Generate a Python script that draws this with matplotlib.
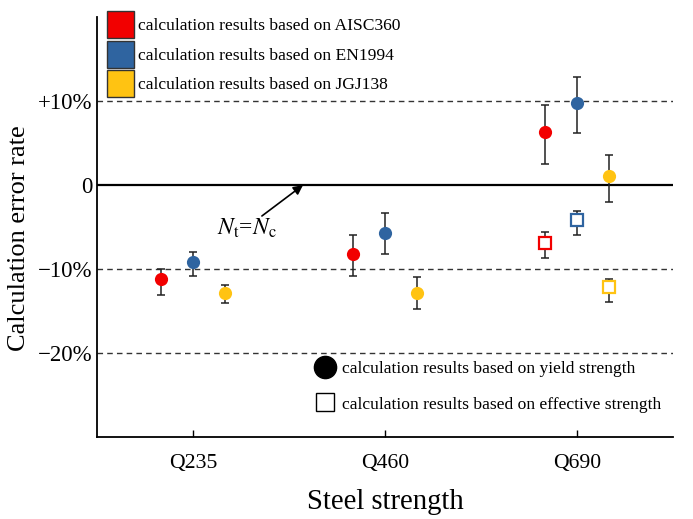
import numpy as np
import matplotlib
matplotlib.use('Agg')
import matplotlib.pyplot as plt
from matplotlib.patches import Patch
from matplotlib.lines import Line2D

plt.rcParams['font.family'] = ['Liberation Serif', 'DejaVu Serif']
plt.rcParams['mathtext.fontset'] = 'stix'

# 数据
categories = ['Q235', 'Q460', 'Q690']
codes = ['AISC360', 'EN1994', 'JGJ138']

# yield strength (circles): mean, lower end, upper end of error bar (%)
yield_mean = [[-11.15, -8.2, 6.3],
              [-9.13, -5.73, 9.8],
              [-12.8, -12.85, 1.07]]
yield_low = [[-13.1, -10.8, 2.5],
             [-10.8, -8.2, 6.2],
             [-14.1, -14.75, -2.0]]
yield_high = [[-10.0, -6.0, 9.5],
              [-7.95, -3.36, 12.9],
              [-11.9, -10.9, 3.6]]

# effective strength (hollow squares), only Q690
eff_mean = [-6.85, -4.15, -12.1]
eff_low = [-8.66, -5.9, -13.9]
eff_high = [-5.6, -3.1, -11.2]

colors = ['#F20000', '#2F64A0', '#FFC312']
offsets = [-0.165, 0.0, 0.165]

fig = plt.figure(figsize=(6.93, 5.19), dpi=100)
ax = fig.add_axes([0.140, 0.158, 0.831, 0.809])

x = np.arange(len(categories))

# 参考线
ax.axhline(0, color='black', linewidth=1.6, zorder=1)
for yv in [10, -10, -20]:
    ax.axhline(yv, color='#333333', linewidth=1.0, linestyle=(0, (4, 3)), zorder=1)

for i in range(3):
    m = np.array(yield_mean[i])
    lo = m - np.array(yield_low[i])
    hi = np.array(yield_high[i]) - m
    ax.errorbar(x + offsets[i], m, yerr=[lo, hi], fmt='none', ecolor='#222222',
                elinewidth=1.1, capsize=3.2, capthick=1.1, zorder=2)
    ax.plot(x + offsets[i], m, 'o', color=colors[i], markersize=9.5,
            markeredgewidth=0, zorder=3)
    # effective
    em = eff_mean[i]
    ax.errorbar(2 + offsets[i], em, yerr=[[em - eff_low[i]], [eff_high[i] - em]],
                fmt='none', ecolor='#222222', elinewidth=1.1, capsize=3.2,
                capthick=1.1, zorder=2)
    ax.plot(2 + offsets[i], em, 's', markerfacecolor='white', markeredgecolor=colors[i],
            markersize=8.2, markeredgewidth=1.6, zorder=3)

ax.set_xlim(-0.5, 2.5)
ax.set_ylim(-30, 20)
ax.set_xticks(x)
ax.set_xticklabels(categories, fontsize=15.7)
ax.set_yticks([10, 0, -10, -20])
ax.set_yticklabels(['+10%', '0', '\u221210%', '\u221220%'], fontsize=16.5)
ax.tick_params(axis='x', direction='in', length=5, width=1, pad=12)
ax.tick_params(axis='y', length=0, pad=3)

for s in ['top', 'right']:
    ax.spines[s].set_visible(False)
for s in ['left', 'bottom']:
    ax.spines[s].set_linewidth(1.3)

ax.set_xlabel('Steel strength', fontsize=20.6, labelpad=12)
ax.set_ylabel('Calculation error rate', fontsize=19, labelpad=6)
ax.yaxis.label.set_y(0.474)

# 标注
ax.annotate('', xy=(0.573, 0.0), xytext=(0.359, -3.68),
            arrowprops=dict(arrowstyle='-|>', color='black', lw=1.2, mutation_scale=14,
                            shrinkA=0, shrinkB=0))
ax.text(0.125, -5.1, r'$N_{\mathrm{t}}$=$N_{\mathrm{c}}$', fontsize=17, ha='left', va='center')

# 图例1
handles1 = [Patch(facecolor=c, edgecolor='#333333', linewidth=1.0) for c in colors]
labels1 = ['calculation results based on ' + c for c in codes]
leg1 = ax.legend(handles1, labels1, loc='upper left', bbox_to_anchor=(0.017, 1.014),
                 frameon=False, fontsize=12.6, handlelength=1.55, handleheight=2.0,
                 labelspacing=0.14, handletextpad=0.25, borderpad=0, borderaxespad=0)
ax.add_artist(leg1)

# 图例2
handles2 = [Line2D([], [], marker='o', color='black', linestyle='none', markersize=16),
            Line2D([], [], marker='s', markerfacecolor='white', markeredgecolor='black',
                   linestyle='none', markersize=13, markeredgewidth=1.0)]
labels2 = ['calculation results based on yield strength',
           'calculation results based on effective strength']
ax.legend(handles2, labels2, loc='upper left', bbox_to_anchor=(0.375, 0.181),
          frameon=False, fontsize=12.6, handlelength=1.4, labelspacing=1.09,
          handletextpad=0.26, borderpad=0, borderaxespad=0)

fig.savefig('out.png', dpi=100)
